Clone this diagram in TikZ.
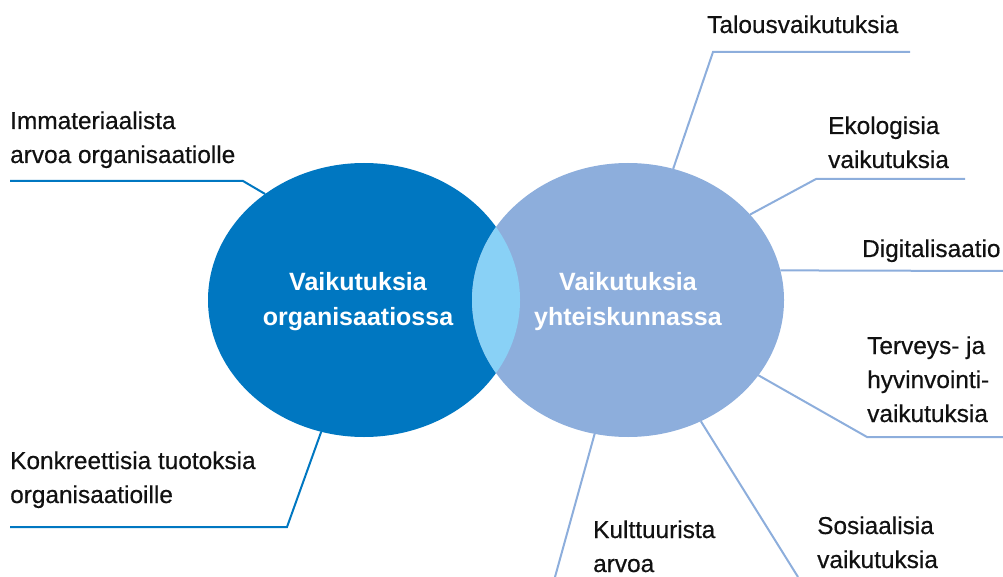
\documentclass[tikz,border=0pt]{standalone}
\usepackage{fontspec}
\setmainfont{Liberation Sans}
\newfontfamily\medfont{Liberation Sans}[FakeBold=0.5]
\usetikzlibrary{shapes.geometric}
\definecolor{orgblue}{HTML}{0077C1}
\definecolor{socblue}{HTML}{8DAEDC}
\definecolor{lensblue}{HTML}{89D1F6}
\definecolor{txt}{HTML}{111111}
\begin{document}
\begin{tikzpicture}[x=1pt,y=-1pt,
  lbl/.style={anchor=base west, inner sep=0pt, align=left, text=txt, font=\medfont\fontsize{24.4}{34}\selectfont},
  ctr/.style={anchor=base, inner sep=0pt, align=center, text=white, font=\fontsize{25}{35}\selectfont\bfseries},
  orgline/.style={draw=orgblue, line width=2pt},
  socline/.style={draw=socblue, line width=2pt},
  blob/.style={ellipse, minimum width=312pt, minimum height=274pt, inner sep=0pt, outer sep=0pt}]
\useasboundingbox (0,0) rectangle (1003,577);
\node[blob, fill=orgblue] (org) at (364,300) {};
\node[blob, fill=socblue] (soc) at (628,300) {};
\begin{scope}
  \clip (364,300) ellipse [x radius=156, y radius=137];
  \fill[lensblue] (628,300) ellipse [x radius=156, y radius=137];
\end{scope}
\node[ctr] (orgt) at (358,325) {Vaikutuksia\\organisaatiossa};
\node[ctr] (soct) at (628,325) {Vaikutuksia\\yhteiskunnassa};
\node[lbl] (im) at (10,163) {Immateriaalista\\arvoa organisaatiolle};
\node[lbl] (ko) at (10,503) {Konkreettisia tuotoksia\\organisaatioille};
\node[lbl] (ta) at (707,33) {Talousvaikutuksia};
\node[lbl] (ek) at (828,168) {Ekologisia\\vaikutuksia};
\node[lbl] (di) at (862,257) {Digitalisaatio};
\node[lbl] (te) at (867,422) {Terveys- ja\\hyvinvointi-\\vaikutuksia};
\node[lbl] (ku) at (593,572) {Kulttuurista\\arvoa};
\node[lbl] (so) at (817,568) {Sosiaalisia\\vaikutuksia};
\coordinate (imA) at (243,181); \coordinate (imB) at (10,181);
\coordinate (koA) at (287,527); \coordinate (koB) at (10,527);
\coordinate (taA) at (713,52); \coordinate (taB) at (910,52);
\coordinate (ekA) at (816,179); \coordinate (ekB) at (965,179);
\coordinate (diB) at (1003,271);
\coordinate (teA) at (867,437); \coordinate (teB) at (1003,437);
\coordinate (soB) at (798,577);
\coordinate (kuB) at (555,577);
\draw[orgline] (org.133) -- (imA) -- (imB);
\draw[orgline] (org.252) -- (koA) -- (koB);
\draw[socline] (soc.71) -- (taA) -- (taB);
\draw[socline] (soc.35) -- (ekA) -- (ekB);
\draw[socline] (soc.11) -- (diB);
\draw[socline] (soc.-30) -- (teA) -- (teB);
\draw[socline] (soc.-59) -- (soB);
\draw[socline] (soc.-104) -- (kuB);
\end{tikzpicture}
\end{document}
